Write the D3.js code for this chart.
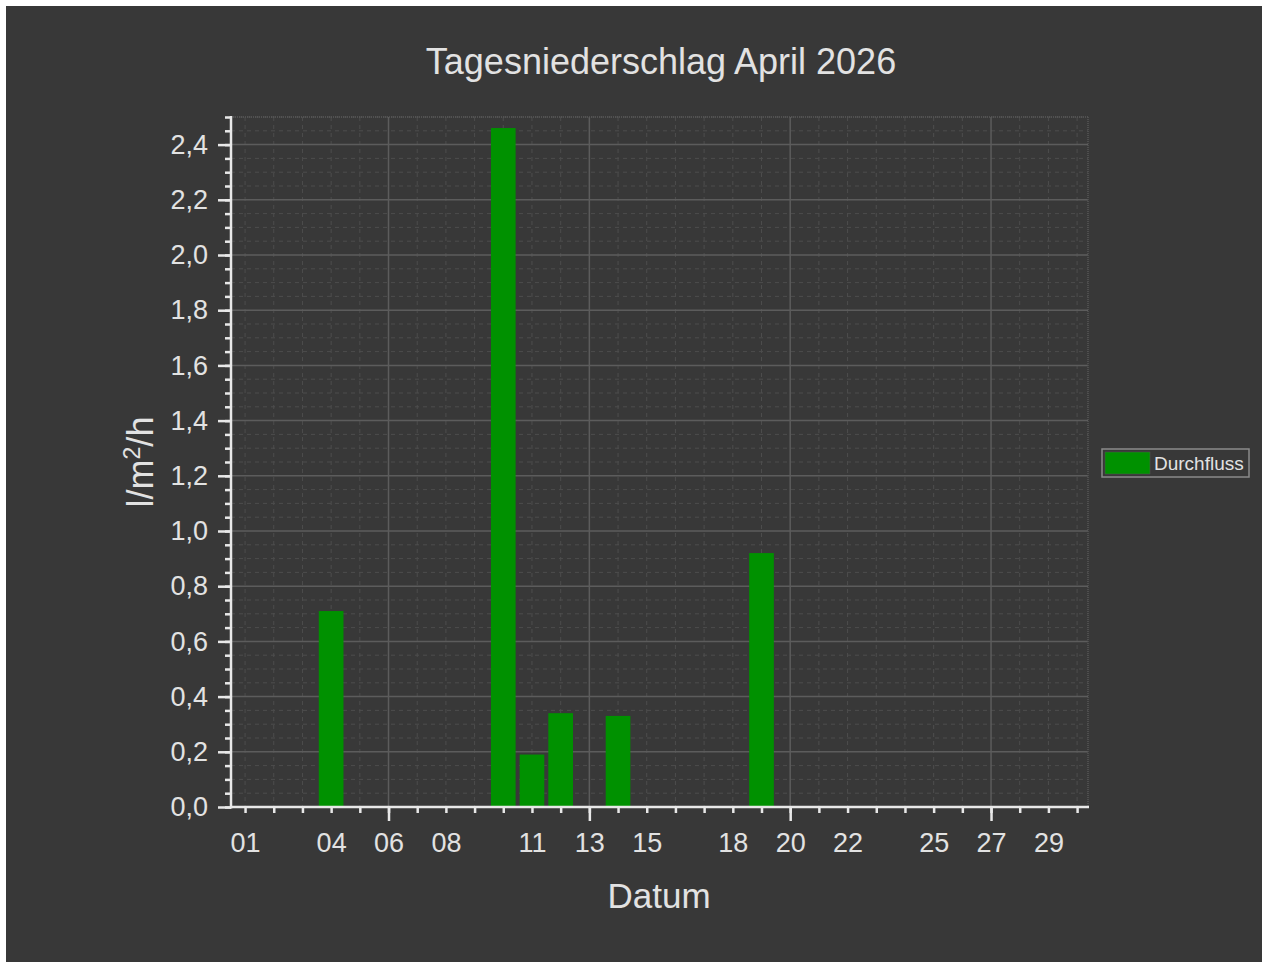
<!DOCTYPE html>
<html>
<head>
<meta charset="utf-8">
<script src="https://cdn.jsdelivr.net/npm/d3@7"></script>
<style>
  html, body { margin: 0; padding: 0; background: #fff; }
  svg { display: block; }
</style>
</head>
<body>
<svg id="chart"></svg>
<script>
// data
const days = [4, 10, 11, 12, 14, 19];
const values = [0.71, 2.46, 0.19, 0.34, 0.33, 0.92];
const xTickLabels = ['01', '04', '06', '08', '11', '13', '15', '18', '20', '22', '25', '27', '29'];
const weekTicks = [6, 13, 20, 27];
const yTicks = [0, 0.2, 0.4, 0.6, 0.8, 1.0, 1.2, 1.4, 1.6, 1.8, 2.0, 2.2, 2.4];
const seriesName = 'Durchfluss';
const title = 'Tagesniederschlag April 2026';

const width = 1264, height = 962;
const margin = { left: 231, right: 1264 - 1088, top: 117, bottom: 962 - 807 };
const font = "'Liberation Sans', Arial, sans-serif";
const textColor = '#e2e2e2';

const svg = d3.select('#chart')
  .attr('width', width)
  .attr('height', height);

svg.append('rect')
  .attr('x', 6).attr('y', 6)
  .attr('width', 1256).attr('height', 956)
  .attr('fill', '#383838');

const x = d3.scaleLinear()
  .domain([0.51, 30.38])
  .range([margin.left, width - margin.right]);
const y = d3.scaleLinear()
  .domain([0, 2.5])
  .range([height - margin.bottom, margin.top]);

const allDays = d3.range(1, 31);
const minorY = d3.range(0, 51).map(i => i * 0.05);
const yFmt = d => d3.format('.1f')(d).replace('.', ',');

// grid
const grid = svg.append('g');
grid.selectAll('.vminor')
  .data(allDays.filter(d => !weekTicks.includes(d)))
  .join('line')
    .attr('x1', d => x(d)).attr('x2', d => x(d))
    .attr('y1', y(2.5)).attr('y2', y(0))
    .attr('stroke', '#4d4d4d')
    .attr('stroke-dasharray', '4,4');
grid.selectAll('.hminor')
  .data(minorY.filter(d => Math.round(d * 100) % 20 !== 0))
  .join('line')
    .attr('x1', x.range()[0]).attr('x2', x.range()[1])
    .attr('y1', d => y(d)).attr('y2', d => y(d))
    .attr('stroke', '#4d4d4d')
    .attr('stroke-dasharray', '4,4');
grid.selectAll('.vmajor')
  .data(weekTicks)
  .join('line')
    .attr('x1', d => x(d)).attr('x2', d => x(d))
    .attr('y1', y(2.5)).attr('y2', y(0))
    .attr('stroke', '#5c5c5c')
    .attr('stroke-width', 1.5);
grid.selectAll('.hmajor')
  .data(yTicks.slice(1))
  .join('line')
    .attr('x1', x.range()[0]).attr('x2', x.range()[1])
    .attr('y1', d => y(d)).attr('y2', d => y(d))
    .attr('stroke', '#5c5c5c')
    .attr('stroke-width', 1.5);
// top and right frame, dotted
grid.append('line')
  .attr('x1', x.range()[0]).attr('x2', x.range()[1])
  .attr('y1', y(2.5)).attr('y2', y(2.5))
  .attr('stroke', '#5a5a5a').attr('stroke-width', 1.5)
  .attr('stroke-dasharray', '1,1');
grid.append('line')
  .attr('x1', x.range()[1]).attr('x2', x.range()[1])
  .attr('y1', y(2.5)).attr('y2', y(0))
  .attr('stroke', '#555').attr('stroke-width', 1.5)
  .attr('stroke-dasharray', '1,1');

// bars
const barW = (x(2) - x(1)) * 0.86;
svg.selectAll('.bar')
  .data(days.map((d, i) => ({ day: d, value: values[i] })))
  .join('rect')
    .attr('x', d => x(d.day) - barW / 2)
    .attr('y', d => y(d.value))
    .attr('width', barW)
    .attr('height', d => y(0) - y(d.value))
    .attr('fill', '#009100');

// y axis
const axisColor = '#e8e8e8';
const yAxis = svg.append('g')
  .attr('transform', `translate(${x.range()[0]},0)`);
yAxis.append('g')
  .call(d3.axisLeft(y).tickValues(minorY).tickSize(6).tickFormat(''))
  .call(g => g.select('.domain').remove());
yAxis.append('g')
  .call(d3.axisLeft(y).tickValues(yTicks).tickSize(13).tickPadding(10).tickFormat(yFmt))
  .call(g => g.select('.domain').remove());
yAxis.append('line')
  .attr('y1', y(2.5) - 1).attr('y2', y(0) + 1.5)
  .attr('stroke', axisColor).attr('stroke-width', 2.5);
yAxis.selectAll('line').attr('stroke', axisColor).attr('stroke-width', 2.5);
yAxis.selectAll('text')
  .attr('fill', textColor)
  .style('font-family', font)
  .style('font-size', '27px');

// x axis
const xAxis = svg.append('g')
  .attr('transform', `translate(0,${y(0)})`);
xAxis.append('g')
  .call(d3.axisBottom(x).tickValues(allDays).tickSize(6).tickFormat(''))
  .call(g => g.select('.domain').remove());
xAxis.append('g')
  .call(d3.axisBottom(x).tickValues(weekTicks).tickSize(14).tickFormat(''))
  .call(g => g.select('.domain').remove());
xAxis.append('g')
  .call(d3.axisBottom(x)
    .tickValues(xTickLabels.map(Number))
    .tickSize(0)
    .tickPadding(26)
    .tickFormat(d => d3.format('02d')(d)))
  .call(g => g.select('.domain').remove());
xAxis.append('line')
  .attr('x1', x.range()[0] - 1).attr('x2', x.range()[1] + 1)
  .attr('stroke', axisColor).attr('stroke-width', 2.5);
xAxis.selectAll('line').attr('stroke', axisColor).attr('stroke-width', 2.5);
xAxis.selectAll('text')
  .attr('fill', textColor)
  .style('font-family', font)
  .style('font-size', '27px');

// titles
svg.append('text')
  .attr('x', 661).attr('y', 74)
  .attr('text-anchor', 'middle')
  .attr('fill', textColor)
  .style('font-family', font)
  .style('font-size', '36px')
  .text(title);

svg.append('text')
  .attr('x', 659).attr('y', 908)
  .attr('text-anchor', 'middle')
  .attr('fill', textColor)
  .style('font-family', font)
  .style('font-size', '35px')
  .text('Datum');

const yLabel = svg.append('text')
  .attr('transform', 'translate(153,462) rotate(-90)')
  .attr('text-anchor', 'middle')
  .attr('fill', textColor)
  .style('font-family', font)
  .style('font-size', '36px');
yLabel.append('tspan').text('l/m');
yLabel.append('tspan').attr('dy', -13).style('font-size', '23px').text('2');
yLabel.append('tspan').attr('dy', 13).text('/h');

// legend
const legend = svg.append('g').attr('transform', 'translate(1102,449)');
legend.append('rect')
  .attr('width', 147).attr('height', 28)
  .attr('fill', 'none')
  .attr('stroke', '#8a8a8a')
  .attr('stroke-width', 1.5);
legend.append('rect')
  .attr('x', 3).attr('y', 3)
  .attr('width', 45).attr('height', 22)
  .attr('fill', '#009100')
  .attr('stroke', '#555').attr('stroke-width', 0.5);
legend.append('text')
  .attr('x', 52).attr('y', 21)
  .attr('fill', textColor)
  .style('font-family', font)
  .style('font-size', '19px')
  .text(seriesName);
</script>
</body>
</html>
